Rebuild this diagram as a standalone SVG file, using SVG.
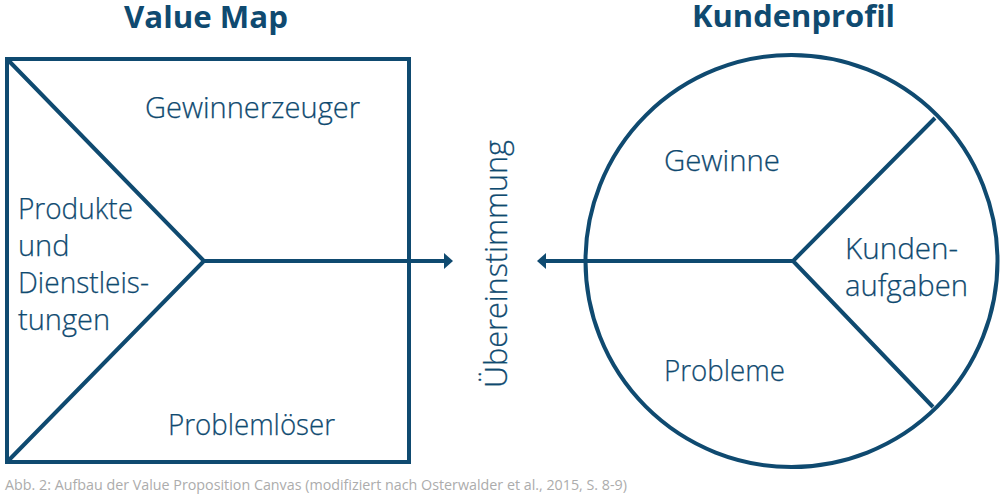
<svg xmlns="http://www.w3.org/2000/svg" width="1000" height="500" viewBox="0 0 1000 500">
<style>
.s{fill:none;stroke:#0f4a70;stroke-width:4}
.t{font-family:"Open Sans","Noto Sans","Liberation Sans",sans-serif;font-size:29px;font-weight:300;fill:#0f4a70;stroke:#0f4a70;stroke-width:.25}
.v{font-size:31px}
.h{font-family:"Open Sans","Noto Sans","Liberation Sans",sans-serif;font-size:31px;font-weight:700;fill:#0f4a70}
.c{font-family:"Open Sans","Noto Sans","Liberation Sans",sans-serif;font-size:15px;font-weight:400;fill:#acacac}
.a{fill:#0f4a70}
</style>
<rect width="1000" height="500" fill="#fff"/>
<g id="value-map">
<rect class="s" x="7" y="59" width="402" height="403"/>
<text class="h" x="124" y="28" textLength="164" lengthAdjust="spacingAndGlyphs">Value Map</text>
<text class="t" x="145" y="118" textLength="215" lengthAdjust="spacingAndGlyphs">Gewinnerzeuger</text>
<text class="t" x="18" y="219" textLength="115" lengthAdjust="spacingAndGlyphs">Produkte</text>
<text class="t" x="18" y="256">und</text>
<text class="t" x="18" y="293" textLength="131" lengthAdjust="spacingAndGlyphs">Dienstleis-</text>
<text class="t" x="18" y="330">tungen</text>
<text class="t" x="168" y="435" textLength="167" lengthAdjust="spacingAndGlyphs">Problemlöser</text>
</g>
<g id="kundenprofil">
<circle class="s" cx="791.5" cy="261" r="206"/>
<text class="h" x="692" y="27" textLength="203" lengthAdjust="spacingAndGlyphs">Kundenprofil</text>
<text class="t" x="664" y="171" textLength="116" lengthAdjust="spacingAndGlyphs">Gewinne</text>
<text class="t" x="845" y="259" textLength="113" lengthAdjust="spacingAndGlyphs">Kunden-</text>
<text class="t" x="845" y="296" textLength="123" lengthAdjust="spacingAndGlyphs">aufgaben</text>
<text class="t" x="664" y="381" textLength="121" lengthAdjust="spacingAndGlyphs">Probleme</text>
</g>
<g id="uebereinstimmung">
<text class="t v" transform="translate(507 388) rotate(-90)" textLength="248" lengthAdjust="spacingAndGlyphs">Übereinstimmung</text>
</g>
<g id="connectors">
<path class="s" d="M8 60 204 261 8 461M204 261H446"/>
<path class="a" d="M444 253 453 261 444 269Z"/>
<path class="s" d="M935 118 793 261 933 407M793 261H545"/>
<path class="a" d="M546 253 537 261 546 269Z"/>
</g>
<text class="c" x="5" y="490" textLength="622" lengthAdjust="spacingAndGlyphs">Abb. 2: Aufbau der Value Proposition Canvas (modifiziert nach Osterwalder et al., 2015, S. 8-9)</text>
</svg>
